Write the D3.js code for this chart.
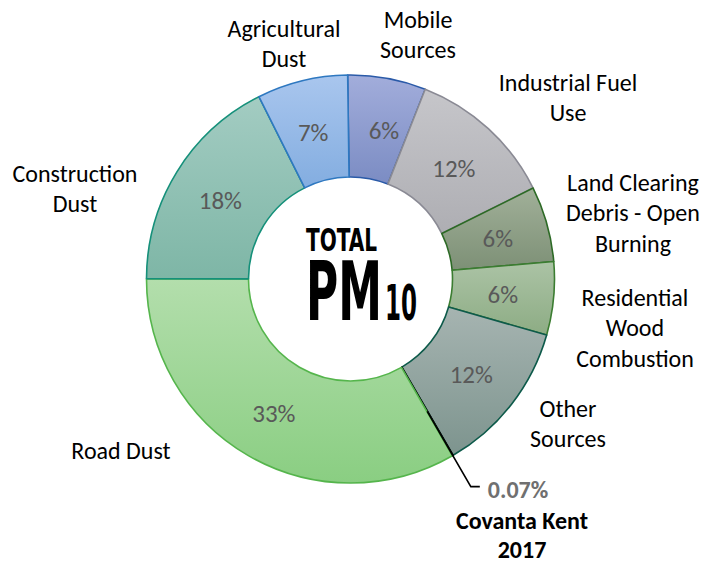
<!DOCTYPE html>
<html><head><meta charset="utf-8">
<script src="https://cdn.jsdelivr.net/npm/d3@7"></script>
<style>body{margin:0;background:#fff}</style>
</head><body>
<svg id="chart" width="705" height="562"></svg>
<script>
// ---- data ----
const categories = ["Mobile Sources","Industrial Fuel Use","Land Clearing Debris - Open Burning","Residential Wood Combustion","Other Sources","Covanta Kent 2017","Road Dust","Construction Dust","Agricultural Dust"];
const values = [6.2, 11.7, 6.0, 5.8, 12.2, 0.07, 33.4, 17.6, 7.2];
const percentLabels = ["6%","12%","6%","6%","12%","0.07%","33%","18%","7%"];
const categoryLines = [
  ["Mobile","Sources"],
  ["Industrial Fuel","Use"],
  ["Land Clearing","Debris - Open","Burning"],
  ["Residential","Wood","Combustion"],
  ["Other","Sources"],
  ["Covanta Kent","2017"],
  ["Road Dust"],
  ["Construction","Dust"],
  ["Agricultural","Dust"]
];
const centerTitle = ["TOTAL","PM","10"];

// ---- styles / layout ----
const colorsTop    = ["#a2addb","#c6c6ca","#a1b099","#abc3a5","#a6b4b1","#a6b4b1","#b3deac","#a3ccc2","#a9c6ee"];
const colorsBottom = ["#7b8cc3","#aeaeb3","#7d9076","#8dac84","#7d948e","#7d948e","#8ace82","#7eb6a6","#83ade0"];
const strokes      = ["#2a5aa8","#8a8a94","#2d6a26","#3b7d31","#0d5a4a","#000000","#55b54c","#15907a","#2e78c0"];
const labelPos = [[418,19],[568,82],[633,182],[635,297],[568,408],[522,520.5],[121,450],[75,173],[284,28]];
const pctShift = [[6,2],[0,2],[0,1],[0,1],[0,2],[0,0],[0,2],[0,2],[-1,2]];

const W = 705, H = 562, cx = 350.5, cy = 279, R = 204, r0 = 102;
const svg = d3.select("#chart");
const defs = svg.append("defs");
const font = "Carlito, Lato, 'Open Sans', sans-serif";
const fs = 24;

const start = -0.8 * Math.PI / 180;
const pie = d3.pie().sort(null).value(d => d).startAngle(start).endAngle(start + 2 * Math.PI);
const arcs = pie(values);
const arc = d3.arc().innerRadius(r0).outerRadius(R);
const mid = d3.arc().innerRadius((r0 + R) / 2).outerRadius((r0 + R) / 2);

colorsTop.forEach((c, i) => {
  const g = defs.append("linearGradient").attr("id", "g" + i)
    .attr("x1", 0).attr("y1", 0).attr("x2", 0).attr("y2", 1);
  g.append("stop").attr("offset", "0%").attr("stop-color", c);
  g.append("stop").attr("offset", "100%").attr("stop-color", colorsBottom[i]);
});

const g = svg.append("g").attr("transform", `translate(${cx},${cy})`);
g.selectAll("path.slice").data(arcs).enter().append("path")
  .attr("class", "slice")
  .attr("d", arc)
  .attr("fill", (d, i) => `url(#g${i})`)
  .attr("stroke", (d, i) => strokes[i])
  .attr("stroke-width", 1.6)
  .attr("stroke-linejoin", "round");

// percentage labels (skip the tiny Covanta slice; it gets a leader)
g.selectAll("text.pct").data(arcs.filter((d, i) => i !== 5)).enter().append("text")
  .attr("class", "pct")
  .attr("transform", d => {
    const c = mid.centroid(d), s = pctShift[d.index];
    return `translate(${c[0] + s[0]},${c[1] + s[1]})`;
  })
  .attr("text-anchor", "middle")
  .attr("dominant-baseline", "central")
  .attr("font-family", font)
  .attr("font-size", 25)
  .attr("fill", "#595959")
  .text(d => percentLabels[d.index]);

// category labels
categoryLines.forEach((lines, i) => {
  if (i === 5) return;
  const t = svg.append("text")
    .attr("text-anchor", "middle")
    .attr("font-family", font)
    .attr("font-size", fs)
    .attr("fill", "#000");
  lines.forEach((ln, j) => {
    t.append("tspan").attr("x", labelPos[i][0]).attr("y", labelPos[i][1] + j * 30.5)
      .attr("dominant-baseline", "central").text(ln);
  });
});

// Covanta leader + labels
const cov = arcs[5];
const a = (cov.startAngle + cov.endAngle) / 2;
const p0 = mid.centroid(cov);
const r1 = 240;
const p1 = [r1 * Math.sin(a), -r1 * Math.cos(a)];
const p2 = [p1[0] + 9, p1[1]];
g.append("path")
  .attr("d", d3.line()([p0, p1, p2]))
  .attr("fill", "none").attr("stroke", "#000").attr("stroke-width", 1.6);
svg.append("text")
  .attr("x", cx + p2[0] + 8).attr("y", cy + p2[1] + 3)
  .attr("dominant-baseline", "central")
  .attr("font-family", font).attr("font-weight", "bold")
  .attr("font-size", fs).attr("fill", "#707070")
  .text(percentLabels[5]);
const ct = svg.append("text")
  .attr("text-anchor", "middle")
  .attr("font-family", font).attr("font-weight", "bold")
  .attr("font-size", fs).attr("fill", "#000");
categoryLines[5].forEach((ln, j) => {
  ct.append("tspan").attr("x", labelPos[5][0]).attr("y", labelPos[5][1] + j * 29)
    .attr("dominant-baseline", "central").text(ln);
});

// center title (one text element, three runs)
const cfont = "'DejaVu Sans Condensed', 'Liberation Sans Narrow', sans-serif";
const title = svg.append("text")
  .attr("font-family", cfont).attr("font-weight", "bold").attr("fill", "#000");
title.append("tspan").attr("x", 306).attr("y", 251).attr("font-size", 32)
  .attr("textLength", 71).attr("lengthAdjust", "spacingAndGlyphs").text(centerTitle[0]);
title.append("tspan").attr("x", 306).attr("y", 320).attr("font-size", 82)
  .attr("textLength", 76).attr("lengthAdjust", "spacingAndGlyphs").text(centerTitle[1]);
title.append("tspan").attr("x", 385).attr("y", 320).attr("font-size", 50)
  .attr("textLength", 32).attr("lengthAdjust", "spacingAndGlyphs").text(centerTitle[2]);
</script>
</body></html>
